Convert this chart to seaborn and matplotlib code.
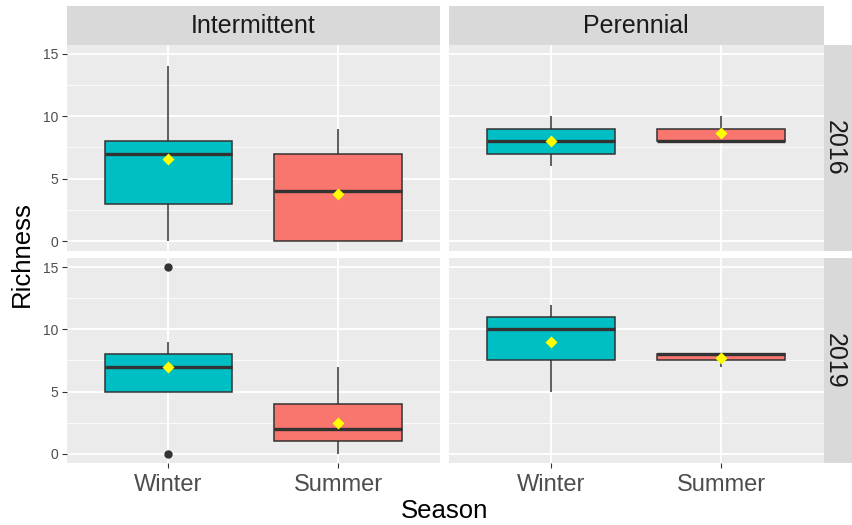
import matplotlib
matplotlib.use("Agg")
import matplotlib.pyplot as plt
from matplotlib.patches import Rectangle
import pandas as pd
import seaborn as sns

# Categories
seasons = ["Winter", "Summer"]
stream_types = ["Intermittent", "Perennial"]
years = ["2016", "2019"]

# Richness observations per stream type, year and season
int_2016_winter = [0, 2, 3, 3, 7, 7, 8, 8, 14, 14]
int_2016_summer = [0, 0, 0, 2, 4, 5, 7, 7, 9]
per_2016_winter = [6, 7, 8, 9, 10]
per_2016_summer = [8, 8, 8, 8, 8, 9, 9, 10, 10]
int_2019_winter = [0, 5, 5, 7, 7, 7, 8, 9, 15]
int_2019_summer = [0, 0, 1, 1, 2, 2, 4, 4, 4, 7]
per_2019_winter = [5, 6, 7, 8, 8, 10, 10, 11, 11, 11, 12]
per_2019_summer = [7, 8, 8]

y_ticks = [0, 5, 10, 15]

groups = {
    ("Intermittent", "2016", "Winter"): int_2016_winter,
    ("Intermittent", "2016", "Summer"): int_2016_summer,
    ("Perennial", "2016", "Winter"): per_2016_winter,
    ("Perennial", "2016", "Summer"): per_2016_summer,
    ("Intermittent", "2019", "Winter"): int_2019_winter,
    ("Intermittent", "2019", "Summer"): int_2019_summer,
    ("Perennial", "2019", "Winter"): per_2019_winter,
    ("Perennial", "2019", "Summer"): per_2019_summer,
}
rows = []
for (stype, year, season), vals in groups.items():
    for v in vals:
        rows.append({"Type": stype, "Year": year, "Season": season, "Richness": v})
df = pd.DataFrame(rows)

palette = {"Winter": "#00BFC4", "Summer": "#F8766D"}

plt.rcParams["font.family"] = ["Liberation Sans", "DejaVu Sans"]

W, H = 852, 525
fig = plt.figure(figsize=(W / 100, H / 100), dpi=100)
fig.patch.set_facecolor("white")


def fbox(x0, x1, y0, y1):
    """Pixel box (top-down y) to figure-fraction rect."""
    return [x0 / W, 1 - y1 / H, (x1 - x0) / W, (y1 - y0) / H]


col_px = [(66.5, 440.0), (448.5, 823.5)]
row_px = [(44.5, 250.5), (258.0, 463.0)]
strip_top = (6.0, 44.5)
strip_right = (824.0, 862.0)

strip_bg = "#D9D9D9"
text_dark = "#1A1A1A"
tick_gray = "#4D4D4D"

for r, year in enumerate(years):
    for c, stype in enumerate(stream_types):
        x0, x1 = col_px[c]
        y0, y1 = row_px[r]
        ax = fig.add_axes(fbox(x0, x1, y0, y1))
        ax.set_facecolor("#EBEBEB")
        sub = df[(df["Type"] == stype) & (df["Year"] == year)]

        sns.boxplot(
            data=sub, x="Season", y="Richness", hue="Season",
            order=seasons, hue_order=seasons, palette=palette,
            saturation=1, width=0.75, linewidth=1.1, linecolor="#333333",
            showcaps=False, whis=1.5, legend=False, ax=ax,
            flierprops=dict(marker="o", markerfacecolor="#333333",
                            markeredgecolor="#333333", markersize=5),
            medianprops=dict(linewidth=2.4, color="#333333"),
        )
        sns.pointplot(
            data=sub, x="Season", y="Richness", order=seasons,
            estimator="mean", errorbar=None, color="yellow",
            marker="D", markersize=3.6, linestyle="none", ax=ax,
        )
        for coll in ax.lines[-3:]:
            coll.set_zorder(5)

        ax.set_xlim(-0.6, 1.6)
        ax.set_ylim(-0.75, 15.75)
        ax.set_yticks(y_ticks)
        ax.set_yticks([2.5, 7.5, 12.5], minor=True)
        ax.set_xticks([0, 1])
        ax.set_xticklabels(seasons)
        ax.set_axisbelow(True)
        ax.grid(which="major", axis="both", color="white", linewidth=1.3)
        ax.grid(which="minor", axis="y", color="white", linewidth=0.6)
        for s in ax.spines.values():
            s.set_visible(False)
        ax.set_xlabel("")
        ax.set_ylabel("")
        ax.tick_params(which="minor", length=0)
        ax.tick_params(axis="y", which="major", length=3.8, width=0.8,
                       color="#333333", labelsize=10, labelcolor=tick_gray,
                       pad=2.2, labelleft=(c == 0), left=(c == 0))
        ax.tick_params(axis="x", which="major", length=3.8, width=0.8,
                       color="#333333", labelsize=17, labelcolor=tick_gray,
                       pad=4, labelbottom=(r == 1), bottom=(r == 1))

# facet strips
for c, stype in enumerate(stream_types):
    x0, x1 = col_px[c]
    fig.add_artist(Rectangle((x0 / W, 1 - strip_top[1] / H),
                             (x1 - x0) / W, (strip_top[1] - strip_top[0]) / H,
                             transform=fig.transFigure, facecolor=strip_bg,
                             edgecolor="none"))
    fig.text((x0 + x1) / 2 / W, 1 - (sum(strip_top) / 2 + 1) / H, stype,
             ha="center", va="center", fontsize=18, color=text_dark)

for r, year in enumerate(years):
    y0, y1 = row_px[r]
    fig.add_artist(Rectangle((strip_right[0] / W, 1 - y1 / H),
                             (strip_right[1] - strip_right[0]) / W, (y1 - y0) / H,
                             transform=fig.transFigure, facecolor=strip_bg,
                             edgecolor="none"))
    fig.text(835 / W, 1 - (y0 + y1) / 2 / H, year, rotation=-90,
             ha="center", va="center", fontsize=18, color=text_dark)

# axis titles
fig.text(22 / W, 1 - 254 / H, "Richness", rotation=90, ha="center",
         va="center", fontsize=18.5, color="black")
fig.text(445 / W, 1 - 511 / H, "Season", ha="center", va="center",
         fontsize=18.5, color="black")

fig.savefig("out.png", dpi=100, facecolor="white")
